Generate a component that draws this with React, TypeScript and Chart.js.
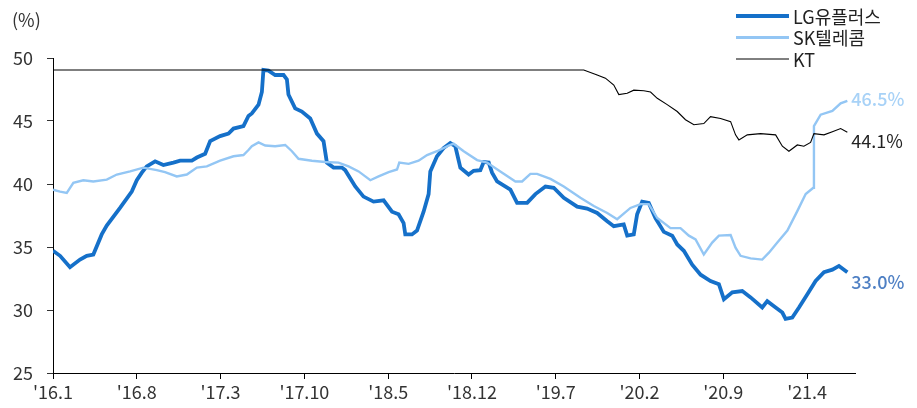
import React, { useEffect, useRef } from "react";
import { Chart, registerables } from "chart.js";

Chart.register(...registerables);

// x positions are months since Jan 2016
const tickMonths = [0, 7, 14, 21, 28, 35, 42, 49, 56, 63];
const tickLabels = ["'16.1", "'16.8", "'17.3", "'17.10", "'18.5", "'18.12", "'19.7", "'20.2", "'20.9", "'21.4"];

const seriesNames = ["LG유플러스", "SK텔레콤", "KT"];

const lgMonths = [0, 0.59, 1.42, 2.26, 2.82, 3.37, 4.07, 4.49, 5.6, 6.58, 7.0, 7.42, 7.83, 8.53, 9.22, 10.06, 10.62, 11.6, 12.02, 12.71, 13.13, 13.96, 14.66, 15.08, 15.91, 16.33, 16.61, 17.17, 17.45, 17.58, 18.0, 18.56, 19.26, 19.54, 19.67, 20.23, 20.79, 21.49, 22.05, 22.6, 22.88, 23.44, 24.14, 24.41, 25.25, 25.94, 26.78, 27.62, 28.32, 28.87, 29.29, 29.43, 29.99, 30.41, 30.96, 31.38, 31.52, 32.08, 32.63, 33.19, 33.61, 34.03, 34.72, 35.14, 35.7, 35.98, 36.4, 36.68, 37.1, 38.21, 38.77, 39.61, 40.3, 41.14, 41.83, 42.67, 43.79, 44.62, 45.46, 46.3, 46.85, 47.68, 47.97, 48.52, 48.8, 49.22, 49.77, 50.33, 51.03, 51.73, 52.15, 52.7, 53.4, 54.1, 54.93, 55.63, 56.05, 56.75, 57.58, 58.28, 59.25, 59.67, 60.37, 60.93, 61.2, 61.76, 62.32, 63.02, 63.71, 64.41, 65.11, 65.66, 66.36];
const lgValues = [34.7, 34.3, 33.4, 34.0, 34.3, 34.4, 36.0, 36.7, 38.1, 39.4, 40.3, 40.9, 41.4, 41.8, 41.5, 41.7, 41.85, 41.85, 42.1, 42.4, 43.4, 43.8, 44.0, 44.4, 44.6, 45.4, 45.6, 46.3, 47.3, 49.05, 49.0, 48.65, 48.65, 48.3, 47.1, 46.0, 45.75, 45.2, 44.0, 43.4, 41.7, 41.3, 41.3, 41.1, 39.8, 39.0, 38.6, 38.7, 37.8, 37.6, 36.9, 36.0, 36.0, 36.3, 37.8, 39.2, 41.0, 42.2, 42.85, 43.25, 43.0, 41.3, 40.75, 41.05, 41.1, 41.75, 41.7, 40.9, 40.2, 39.55, 38.5, 38.5, 39.2, 39.8, 39.7, 38.9, 38.2, 38.05, 37.7, 37.05, 36.65, 36.8, 35.9, 36.0, 37.6, 38.6, 38.5, 37.3, 36.2, 35.9, 35.2, 34.7, 33.6, 32.8, 32.3, 32.05, 30.85, 31.4, 31.5, 31.0, 30.2, 30.7, 30.2, 29.8, 29.3, 29.4, 30.2, 31.25, 32.3, 33.0, 33.2, 33.5, 33.0];

const skMonths = [0, 0.59, 1.15, 1.7, 2.53, 3.37, 4.49, 5.33, 6.44, 7.55, 8.67, 9.36, 10.34, 11.18, 12.02, 12.85, 13.96, 15.08, 15.91, 16.33, 16.61, 17.17, 17.73, 18.56, 19.4, 19.96, 20.51, 21.63, 22.74, 23.85, 24.69, 25.53, 26.51, 27.2, 28.04, 28.74, 28.93, 29.71, 30.54, 31.25, 32.08, 33.05, 33.47, 34.31, 35.43, 36.26, 37.37, 38.63, 39.19, 39.88, 40.44, 41.56, 42.67, 44.06, 45.18, 46.3, 47.13, 48.24, 49.08, 49.77, 50.48, 51.59, 52.42, 53.12, 53.68, 54.37, 55.07, 55.63, 56.61, 57.02, 57.44, 58.28, 59.25, 59.81, 60.51, 61.35, 62.18, 62.88, 63.52, 63.57, 64.13, 65.11, 65.8, 66.36];
const skValues = [39.55, 39.4, 39.3, 40.1, 40.3, 40.2, 40.35, 40.75, 41.0, 41.3, 41.1, 40.95, 40.6, 40.75, 41.3, 41.4, 41.85, 42.2, 42.3, 42.7, 43.0, 43.3, 43.05, 43.0, 43.1, 42.6, 42.0, 41.85, 41.75, 41.7, 41.4, 41.0, 40.3, 40.6, 40.95, 41.15, 41.7, 41.6, 41.85, 42.3, 42.6, 43.05, 43.2, 42.6, 41.9, 41.7, 41.0, 40.2, 40.2, 40.8, 40.8, 40.4, 39.8, 38.9, 38.25, 37.7, 37.2, 38.1, 38.4, 38.4, 37.3, 36.5, 36.5, 35.9, 35.6, 34.4, 35.35, 35.9, 35.95, 34.95, 34.3, 34.1, 34.0, 34.55, 35.35, 36.3, 37.85, 39.2, 39.7, 44.6, 45.5, 45.8, 46.4, 46.6];

const ktMonths = [0, 44.34, 45.46, 46.15, 46.85, 47.27, 47.97, 48.52, 49.36, 49.92, 50.48, 51.31, 52.15, 52.84, 53.54, 54.37, 54.93, 55.77, 56.61, 57.02, 57.3, 58.0, 59.11, 60.37, 60.93, 61.48, 62.18, 62.73, 63.29, 63.57, 64.41, 65.11, 65.8, 66.36];
const ktValues = [49.05, 49.05, 48.65, 48.4, 47.85, 47.1, 47.2, 47.45, 47.4, 47.3, 46.8, 46.3, 45.75, 45.1, 44.7, 44.8, 45.35, 45.2, 44.95, 43.9, 43.5, 43.9, 44.0, 43.9, 43.0, 42.6, 43.1, 43.0, 43.3, 44.0, 43.9, 44.15, 44.4, 44.1];

const endLabels = ["33.0%", "46.5%", "44.1%"];

const FONT = "'Noto Sans CJK KR', 'Noto Sans', sans-serif";
const LG_COLOR = "#1570c9";
const SK_COLOR = "#93c6f4";
const KT_COLOR = "#000000";

const toPoints = (xs: number[], ys: number[]) => xs.map((x, i) => ({ x, y: ys[i] }));

const overlayPlugin = {
  id: "overlay",
  afterDraw(chart: any) {
    const ctx = chart.ctx;
    const xs = chart.scales.x;
    const ys = chart.scales.y;
    ctx.save();
    // unit label
    ctx.font = `18px ${FONT}`;
    ctx.fillStyle = "#333";
    ctx.textAlign = "left";
    ctx.textBaseline = "middle";
    ctx.fillText("(%)", 12, 20);

    // legend
    const legendColors = [LG_COLOR, SK_COLOR, KT_COLOR];
    const legendWidths = [4, 3, 1];
    const legendY = [16, 37.5, 59];
    seriesNames.forEach((name, i) => {
      ctx.strokeStyle = legendColors[i];
      ctx.lineWidth = legendWidths[i];
      ctx.beginPath();
      ctx.moveTo(736, legendY[i]);
      ctx.lineTo(789, legendY[i]);
      ctx.stroke();
      ctx.fillStyle = "#222";
      ctx.font = `18px ${FONT}`;
      ctx.textAlign = "left";
      ctx.textBaseline = "middle";
      ctx.fillText(name, 793, legendY[i] + 1);
    });

    // end labels
    const lastX = xs.getPixelForValue(lgMonths[lgMonths.length - 1]) + 4;
    ctx.font = `500 18px ${FONT}`;
    ctx.textBaseline = "middle";
    ctx.fillStyle = "#4f80c4";
    ctx.fillText(endLabels[0], lastX, ys.getPixelForValue(lgValues[lgValues.length - 1]) + 10);
    ctx.fillStyle = "#a8d2f7";
    ctx.fillText(endLabels[1], lastX, ys.getPixelForValue(skValues[skValues.length - 1]) - 2);
    ctx.font = `18px ${FONT}`;
    ctx.fillStyle = "#222";
    ctx.fillText(endLabels[2], lastX, ys.getPixelForValue(ktValues[ktValues.length - 1]) + 9);
    ctx.restore();
  },
};

export default function App() {
  const canvasRef = useRef<HTMLCanvasElement | null>(null);

  useEffect(() => {
    document.body.style.margin = "0";
    const canvas = canvasRef.current;
    if (!canvas) return;
    const chart = new Chart(canvas, {
      type: "line",
      data: {
        datasets: [
          {
            label: seriesNames[2],
            data: toPoints(ktMonths, ktValues),
            borderColor: KT_COLOR,
            borderWidth: 1.1,
            pointRadius: 0,
            tension: 0,
          },
          {
            label: seriesNames[1],
            data: toPoints(skMonths, skValues),
            borderColor: SK_COLOR,
            borderWidth: 2.4,
            pointRadius: 0,
            tension: 0,
          },
          {
            label: seriesNames[0],
            data: toPoints(lgMonths, lgValues),
            borderColor: LG_COLOR,
            borderWidth: 3.8,
            pointRadius: 0,
            tension: 0,
          },
        ],
      },
      options: {
        animation: false,
        responsive: false,
        maintainAspectRatio: false,
        layout: { padding: { top: 58, right: 62, left: 0, bottom: 0 } },
        plugins: {
          legend: { display: false },
          tooltip: { enabled: false },
        },
        scales: {
          x: {
            type: "linear",
            min: 0,
            max: 67,
            grid: { drawOnChartArea: false, drawTicks: true, tickLength: 6, color: "#000" },
            border: { color: "#000", width: 1 },
            afterBuildTicks: (scale: any) => {
              scale.ticks = tickMonths.map((v) => ({ value: v }));
            },
            afterFit: (scale: any) => {
              scale.height = 35;
            },
            ticks: {
              autoSkip: false,
              maxRotation: 0,
              padding: 2,
              color: "#333",
              font: { family: FONT, size: 18 },
              callback: (v: any) => {
                const idx = tickMonths.indexOf(Number(v));
                return idx >= 0 ? tickLabels[idx] : "";
              },
            },
          },
          y: {
            min: 25,
            max: 50,
            grid: { drawOnChartArea: false, drawTicks: true, tickLength: 6, color: "#333" },
            border: { color: "#000", width: 1 },
            afterFit: (scale: any) => {
              scale.width = 53;
            },
            ticks: {
              stepSize: 5,
              padding: 14,
              color: "#333",
              font: { family: FONT, size: 18 },
            },
          },
        },
      },
      plugins: [overlayPlugin],
    });
    return () => chart.destroy();
  }, []);

  return (
    <div style={{ position: "absolute", left: 0, top: 0, width: 917, height: 408 }}>
      <canvas ref={canvasRef} width={917} height={408} style={{ width: 917, height: 408 }} />
    </div>
  );
}
